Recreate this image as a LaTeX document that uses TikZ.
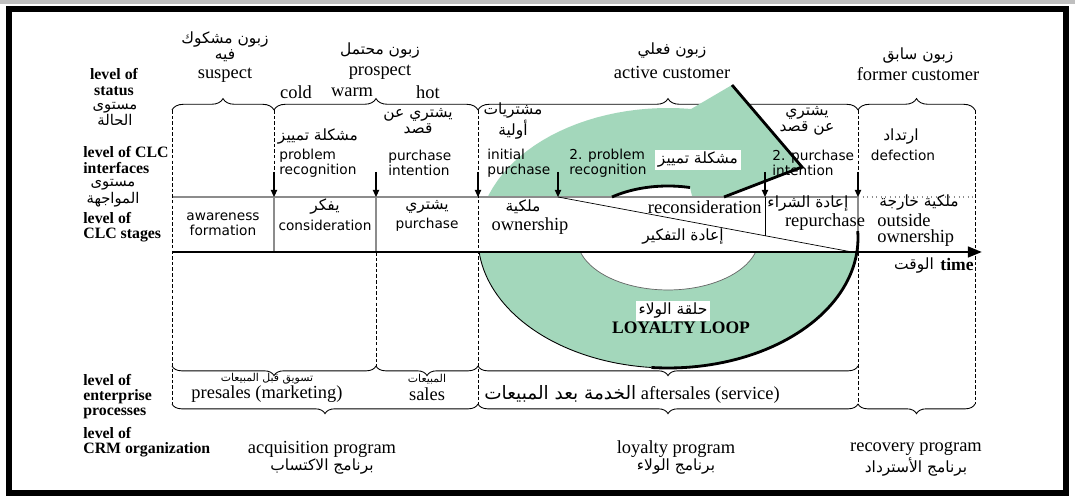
\documentclass[tikz,border=0pt]{standalone}
\usepackage{fontspec}
\setmainfont{Liberation Serif}
\newfontfamily\sansfnt{DejaVu Sans}
\newfontfamily\arabicfont[Script=Arabic]{DejaVu Sans}
\TeXXeTstate=1
\newcommand{\artxt}[1]{{\arabicfont\beginR #1\endR}}
\usetikzlibrary{arrows.meta,decorations.pathreplacing}
\definecolor{loopgreen}{RGB}{163,215,187}
\definecolor{linegray}{RGB}{140,140,140}

\begin{document}
\begin{tikzpicture}[x=0.02cm,y=-0.02cm,
    lvl/.style={font=\fontsize{9}{8.6}\selectfont\bfseries,inner sep=0pt,align=left,anchor=west},
    lvlar/.style={font=\fontsize{8.4}{8.4}\selectfont,inner sep=0pt,align=center},
    ser/.style={font=\fontsize{10.5}{9}\selectfont,inner sep=0pt,align=center},
    sanstxt/.style={font=\fontsize{7.8}{8.6}\sansfnt,inner sep=0pt,align=left},
    arab/.style={font=\fontsize{8.8}{9.2}\selectfont,inner sep=0pt,align=center},
    arsmall/.style={font=\fontsize{6.2}{6.5}\selectfont,inner sep=0pt},
    sepline/.style={dash pattern=on 2pt off 1.2pt,line width=0.5pt},
    cellline/.style={linegray,line width=0.6pt},
    downarrow/.style={line width=0.6pt,-{Triangle[length=4pt,width=3.6pt]}},
    topbrace/.style={decorate,decoration={brace,amplitude=6.5pt},line width=0.5pt},
    lowbrace/.style={decorate,decoration={brace,mirror,amplitude=5.5pt},line width=0.5pt},
    rimline/.style={line width=1.6pt},
    labelbox/.style={fill=white,inner sep=1.5pt}]

\useasboundingbox (0,0) rectangle (1075,502);
\fill[white] (0,0) rectangle (1075,502);
\fill[black!25] (0,0) rectangle (1075,4);
\draw[line width=3.5pt] (9,9) rectangle (1066,493);

% braces of the status and process levels
\foreach \a/\b in {172/274,274/478,478/858,858/975}
  \draw[topbrace] (\a,110) -- (\b,110);
\foreach \a/\b in {172/376,376/478,478/858}
  \draw[lowbrace] (\a,366) -- (\b,366);
\foreach \a/\b in {172/478,478/858,858/975}
  \draw[lowbrace] (\a,404) -- (\b,404);

% loyalty loop
\fill[loopgreen] plot[domain=-10:277,samples=90] ({668+190*cos(\x)},{238+130*sin(\x)})
  -- (732,85) -- (802,167) -- (695,208)
  -- plot[domain=284:-10,samples=70] ({668+91*cos(\x)},{238+52*sin(\x)}) -- cycle;

% row of the CLC stages
\fill[white] (172,197) rectangle (975,252);
\draw[cellline] (172,197) -- (858,197);
\draw[cellline,dotted] (858,197) -- (975,197);
\draw[cellline] (274,197) -- (274,252);
\draw[cellline] (376,197) -- (376,252);
\draw[cellline] (858,197) -- (858,252);
\draw[line width=0.5pt] (765,197) -- (765,236);
\draw[line width=0.4pt] (558,197) -- (852,252);

\draw[sepline] (172,110) -- (172,404);
\draw[sepline] (274,110) -- (274,172);
\draw[sepline] (376,252) -- (376,366);
\draw[sepline] (478,110) -- (478,404);
\draw[sepline] (858,110) -- (858,172);
\draw[sepline] (858,252) -- (858,404);
\draw[sepline] (975,110) -- (975,404);

\draw[rimline] (732,85) -- (802,167) -- (724,197);
\draw[rimline] plot[domain=232:284,samples=20] ({668+91*cos(\x)},{238+52*sin(\x)});
\draw[rimline] plot[domain=-3:95,samples=50] ({668+190*cos(\x)},{238+130*sin(\x)});
\draw[line width=0.5pt] plot[domain=95:174,samples=40] ({668+190*cos(\x)},{238+130*sin(\x)});
\draw[line width=0.4pt,black!60] plot[domain=16:164,samples=40] ({668+91*cos(\x)},{238+52*sin(\x)});

% time axis
\coordinate (t0) at (172,252);
\coordinate (t1) at (982,252);
\draw[line width=1.5pt,-{Triangle[length=8pt,width=6pt]}] (t0) -- (t1);

% interfaces
\foreach \x/\n in {274/a,376/b,478/c,558/d,765/e,858/f}{
  \coordinate (top\n) at (\x,172);
  \coordinate (row\n) at (\x,197);
  \draw[downarrow] (top\n) -- (row\n);
}

% left column
\node[lvl,align=center,anchor=center] (lvStat) at (114,82) {level of\\status};
\node[lvlar] (lvStatAr) at (115,114) {\artxt{مستوى}\\\artxt{الحالة}};
\node[lvl] (lvInt) at (83,160) {level of CLC\\interfaces};
\node[lvlar] (lvIntAr) at (113,193) {\artxt{مستوى}\\\artxt{المواجهة}};
\node[lvl] (lvStage) at (83,227) {level of\\CLC stages};
\node[lvl] (lvProc) at (83,397) {level of\\enterprise\\processes};
\node[lvl] (lvOrg) at (83,442) {level of\\CRM organization};

% status
\node[arab] (suspAr) at (225,47) {\artxt{زبون مشكوك}\\\artxt{فيه}};
\node[ser] (suspEn) at (225,75) {suspect};
\node[arab] (prosAr) at (380,51) {\artxt{زبون محتمل}};
\node[ser] (prosEn) at (380,72) {prospect};
\node[arab] (actAr) at (672,51) {\artxt{زبون فعلي}};
\node[ser] (actEn) at (672,72) {active customer};
\node[arab] (formAr) at (918,56) {\artxt{زبون سابق}};
\node[ser] (formEn) at (918,74) {former customer};
\node[ser] (cold) at (296,92) {cold};
\node[ser] (warm) at (352,92) {warm};
\node[ser] (hot) at (428,92) {hot};

% interfaces texts
\node[arab] (probAr) at (318,137) {\artxt{مشكلة تمييز}};
\node[sanstxt,anchor=west] (probEn) at (279,163) {problem\\recognition};
\node[arab] (intAr) at (418,121) {\artxt{يشتري عن}\\\artxt{قصد}};
\node[sanstxt,anchor=west] (intEn) at (388,163) {purchase\\intention};
\node[arab] (initAr) at (513,121) {\artxt{مشتريات}\\\artxt{أولية}};
\node[sanstxt,anchor=west] (initEn) at (487,163) {initial\\purchase};
\node[sanstxt,anchor=west] (probTwoEn) at (569,163) {2. problem\\recognition};
\node[arab,labelbox] (probTwoAr) at (698,160) {\artxt{مشكلة تمييز}};
\node[arab] (intTwoAr) at (807,121) {\artxt{يشتري}\\\artxt{عن قصد}};
\node[sanstxt,anchor=west] (intTwoEn) at (772,163) {2. purchase\\intention};
\node[arab] (defAr) at (901,137) {\artxt{ارتداد}};
\node[sanstxt,anchor=center] (defEn) at (903,155) {defection};

% stages
\node[sanstxt,align=center] (awar) at (223,224) {awareness\\formation};
\node[arab] (consAr) at (325,207) {\artxt{يفكر}};
\node[sanstxt] (consEn) at (325,225) {consideration};
\node[arab] (purAr) at (427,207) {\artxt{يشتري}};
\node[sanstxt] (purEn) at (427,225) {purchase};
\node[arab] (ownAr) at (523,207) {\artxt{ملكية}};
\node[ser] (ownEn) at (530,226) {ownership};
\node[ser,anchor=east] (recEn) at (762,207) {reconsideration};
\node[arab] (recAr) at (683,237) {\artxt{إعادة التفكير}};
\node[arab] (repAr) at (808,204) {\artxt{إعادة الشراء}};
\node[ser] (repEn) at (825,222) {repurchase};
\node[arab] (outAr) at (919,203) {\artxt{ملكية خارجة}};
\node[ser,align=left,anchor=west] (outEn) at (877,230) {outside\\ownership};

% time
\node[font=\fontsize{10}{10}\selectfont\bfseries,inner sep=0pt] (timeEn) at (957,264) {time};
\node[arab] (timeAr) at (914,266) {\artxt{الوقت}};

% loop labels
\node[arab,labelbox] (loopAr) at (673,311) {\artxt{حلقة الولاء}};
\node[font=\fontsize{10}{10}\selectfont\bfseries,inner sep=0pt] (loopEn) at (681,328) {LOYALTY LOOP};

% processes
\node[arsmall] (preAr) at (267,379) {\artxt{تسويق قبل المبيعات}};
\node[ser] (preEn) at (267,394) {presales (marketing)};
\node[arsmall] (salAr) at (427,379) {\artxt{المبيعات}};
\node[ser] (salEn) at (427,394) {sales};
\node[ser,anchor=west] (aftEn) at (484,394) {\artxt{الخدمة بعد المبيعات} aftersales (service)};

% programs
\node[ser] (acqEn) at (322,449) {acquisition program};
\node[arab] (acqAr) at (322,467) {\artxt{برنامج الاكتساب}};
\node[ser] (loyEn) at (676,449) {loyalty program};
\node[arab] (loyAr) at (676,467) {\artxt{برنامج الولاء}};
\node[ser] (recovEn) at (916,449) {recovery program};
\node[arab] (recovAr) at (916,467) {\artxt{برنامج الأسترداد}};
\end{tikzpicture}
\end{document}
